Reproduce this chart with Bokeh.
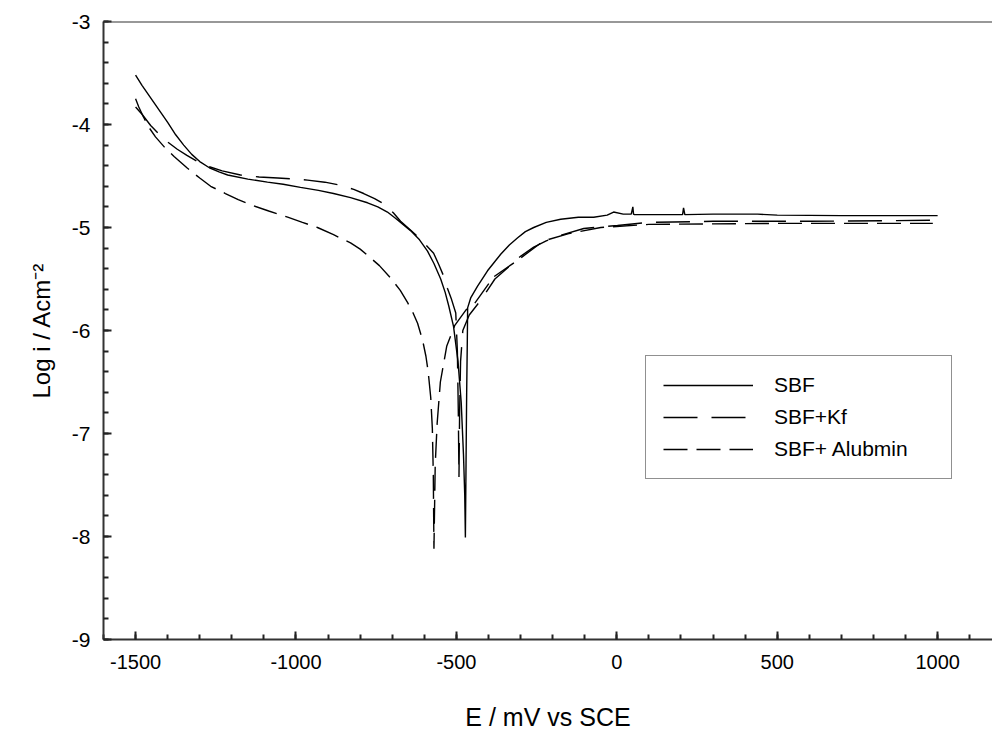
from bokeh.plotting import figure
from bokeh.models import (FixedTicker, Span, Legend, LegendItem, Range1d, CustomJSTickFormatter)
from bokeh.embed import file_html
from bokeh.resources import INLINE

# ---- data ----
sbf_E = [-1500, -1480, -1460, -1440, -1420, -1400, -1375, -1350, -1325, -1300, -1270, -1240, -1213,
         -1150, -1089, -1040, -986, -930, -883, -830, -777, -745, -715, -690, -674,
         -643, -615, -590, -570, -549, -535, -524, -509, -495, -485, -478, -474, -472,
         -470, -468, -466, -465, -455, -434, -403, -380, -362, -335, -309, -285, -259, -220, -175, -120, -72,
         -30, -10, 20, 45, 50, 52, 55, 100, 205, 208, 212, 300, 439, 500, 700, 1000]
sbf_logi = [-3.52, -3.62, -3.71, -3.80, -3.89, -3.98, -4.10, -4.20, -4.29, -4.36, -4.42, -4.46, -4.49,
            -4.53, -4.56, -4.58, -4.61, -4.64, -4.67, -4.71, -4.76, -4.80, -4.85, -4.91, -4.95,
            -5.03, -5.12, -5.23, -5.35, -5.50, -5.63, -5.76, -5.96, -6.30, -6.70, -7.20, -7.60, -8.01,
            -7.30, -6.60, -6.10, -5.78, -5.68, -5.57, -5.42, -5.33, -5.26, -5.17, -5.10, -5.04, -5.00, -4.95, -4.92, -4.90, -4.90,
            -4.88, -4.85, -4.87, -4.87, -4.80, -4.87, -4.875, -4.875, -4.875, -4.81, -4.875, -4.87, -4.87, -4.88, -4.885, -4.885]

kf_E = [-1500, -1480, -1453, -1425, -1400, -1370, -1340, -1307, -1270, -1230, -1173, -1115, -1057,
        -1000, -964, -910, -861, -820, -789, -755, -727, -696, -674, -645, -620, -595, -571,
        -555, -540, -528, -515, -502, -497, -494, -492,
        -490, -487, -480, -460, -425, -380, -340, -300, -259, -220, -180, -103, 2, 100, 300, 600, 985]
kf_logi = [-3.83, -3.90, -4.01, -4.10, -4.17, -4.24, -4.30, -4.36, -4.41, -4.45, -4.49, -4.51, -4.52,
           -4.53, -4.54, -4.56, -4.59, -4.63, -4.67, -4.72, -4.77, -4.86, -4.94, -5.02, -5.09, -5.17, -5.25,
           -5.36, -5.47, -5.59, -5.70, -5.83, -6.20, -6.80, -7.43,
           -6.80, -6.30, -6.00, -5.85, -5.71, -5.50, -5.39, -5.28, -5.19, -5.13, -5.08, -5.01, -4.98, -4.95, -4.94, -4.94, -4.93]

alb_E = [-1500, -1490, -1475, -1458, -1438, -1410, -1380, -1340, -1300, -1266, -1220, -1180, -1141,
         -1085, -1026, -980, -933, -883, -830, -800, -777, -740, -705, -675, -652, -635,
         -621, -605, -595, -588, -580, -575, -572, -570,
         -566, -560, -550, -530, -505, -470, -446, -384, -310, -228, -150, -50, 100, 500, 985]
alb_logi = [-3.75, -3.83, -3.93, -4.03, -4.12, -4.22, -4.31, -4.42, -4.52, -4.60, -4.67, -4.73, -4.78,
            -4.84, -4.90, -4.95, -5.00, -5.07, -5.15, -5.21, -5.27, -5.37, -5.49, -5.61, -5.73, -5.83,
            -5.93, -6.10, -6.25, -6.40, -6.65, -6.95, -7.40, -8.12,
            -7.30, -6.90, -6.50, -6.15, -5.95, -5.80, -5.75, -5.48, -5.32, -5.13, -5.06, -5.00, -4.97, -4.96, -4.96]

series_names = ["SBF", "SBF+Kf", "SBF+ Alubmin"]
x_major = [-1500, -1000, -500, 0, 500, 1000]
x_minor = list(range(-1600, 1200, 100))
y_major = [-9, -8, -7, -6, -5, -4, -3]
y_minor = [round(-9 + 0.2 * i, 1) for i in range(31)]

FONT = "Liberation Sans"

p = figure(width=992, height=737, output_backend="svg", toolbar_location=None,
           x_range=Range1d(-1600, 1171), y_range=Range1d(-9, -3),
           min_border_left=103, min_border_right=0, min_border_top=21, min_border_bottom=98,
           background_fill_color="white", border_fill_color="white")
p.outline_line_color = None
p.xgrid.visible = False
p.ygrid.visible = False

r1 = p.line(sbf_E, sbf_logi, line_color="black", line_width=1.4)
r2 = p.line(kf_E, kf_logi, line_color="black", line_width=1.4, line_dash="34 14")
r3 = p.line(alb_E, alb_logi, line_color="black", line_width=1.4, line_dash="24 9")

p.add_layout(Span(location=-3, dimension="width", line_color="#333333", line_width=2))

fmt = CustomJSTickFormatter(code="return String(Math.round(tick));")

for ax in (p.xaxis[0], p.yaxis[0]):
    ax.axis_line_color = "#333333"
    ax.axis_line_width = 2
    ax.major_tick_in = 8
    ax.major_tick_out = 0
    ax.minor_tick_in = 5
    ax.minor_tick_out = 0
    ax.major_tick_line_color = "#222222"
    ax.minor_tick_line_color = "#222222"
    ax.major_tick_line_width = 2
    ax.minor_tick_line_width = 2
    ax.major_label_text_font = FONT
    ax.major_label_text_color = "black"
    ax.axis_label_text_font = FONT
    ax.axis_label_text_color = "black"
    ax.axis_label_text_font_style = "normal"
    ax.formatter = fmt

p.xaxis[0].ticker = FixedTicker(ticks=x_major, minor_ticks=x_minor)
p.yaxis[0].ticker = FixedTicker(ticks=y_major, minor_ticks=y_minor)
p.xaxis[0].major_label_text_font_size = "20px"
p.yaxis[0].major_label_text_font_size = "21px"
p.xaxis[0].major_label_standoff = 15
p.yaxis[0].major_label_standoff = 13
p.xaxis[0].axis_label = "E / mV vs SCE"
p.yaxis[0].axis_label = "Log i / Acm\u207b\u00b2"
p.xaxis[0].axis_label_text_font_size = "25px"
p.yaxis[0].axis_label_text_font_size = "24px"
p.xaxis[0].axis_label_standoff = 31
p.yaxis[0].axis_label_standoff = 14

legend = Legend(items=[LegendItem(label=series_names[0], renderers=[r1]),
                       LegendItem(label=series_names[1], renderers=[r2]),
                       LegendItem(label=series_names[2], renderers=[r3])],
                location=(542, 160))
legend.glyph_width = 90
legend.glyph_height = 22
legend.label_height = 22
legend.label_width = 160
legend.label_standoff = 21
legend.spacing = 8
legend.padding = 17
legend.margin = 0
legend.label_text_font = FONT
legend.label_text_font_size = "21px"
legend.label_text_color = "black"
legend.border_line_color = "#222222"
legend.border_line_width = 1.5
legend.background_fill_color = "white"
legend.background_fill_alpha = 1
p.add_layout(legend)

open("out.html", "w").write(file_html(p, INLINE))
